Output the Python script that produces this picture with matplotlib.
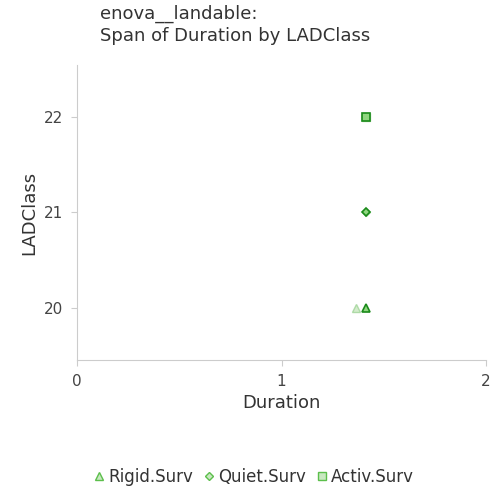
import matplotlib.pyplot as plt
from matplotlib.lines import Line2D

classes = ["Rigid.Surv", "Quiet.Surv", "Activ.Surv"]
lad_class = [20, 21, 22]
dur_min = [1.365, 1.413, 1.413]
dur_max = [1.413, 1.413, 1.413]
markers = ["^", "D", "s"]
msizes = [6, 4, 6]

fig = plt.figure(figsize=(5, 5), dpi=100)
ax = fig.add_axes([0.154, 0.28, 0.818, 0.59])

for i in range(3):
    ax.plot(dur_min[i], lad_class[i], marker=markers[i], ms=msizes[i], ls="none",
            mfc="#c8e8c0", mec="#a0d498", alpha=0.8)
    ax.plot(dur_max[i], lad_class[i], marker=markers[i], ms=msizes[i], ls="none",
            mfc="#8fd67f", mec="#1a8a1a", mew=1.2)

ax.set_xlim(0, 2)
ax.set_ylim(19.45, 22.55)
ax.set_xticks([0, 1, 2])
ax.set_yticks([20, 21, 22])
for s in ["top", "right"]:
    ax.spines[s].set_visible(False)
for s in ["left", "bottom"]:
    ax.spines[s].set_color("#cccccc")
ax.tick_params(colors="#cccccc", labelcolor="#444444", labelsize=11, length=4, pad=6)
ax.set_xlabel("Duration", fontsize=13, color="#333333")
ax.set_ylabel("LADClass", fontsize=13, color="#333333")
fig.text(0.2, 0.91, "enova__landable:\nSpan of Duration by LADClass", fontsize=13,
         color="#333333", va="bottom", linespacing=1.3)

handles = [Line2D([], [], marker=markers[i], ms=msizes[i], ls="none", mfc="#c8e8c0",
                  mec="#5cbf4c") for i in range(3)]
fig.legend(handles, classes, loc="center", bbox_to_anchor=(0.5, 0.046), ncol=3,
           frameon=False, fontsize=12, handletextpad=-0.2, columnspacing=0.2,
           handlelength=1.5, labelcolor="#333333")

fig.savefig("out.png", dpi=100)
